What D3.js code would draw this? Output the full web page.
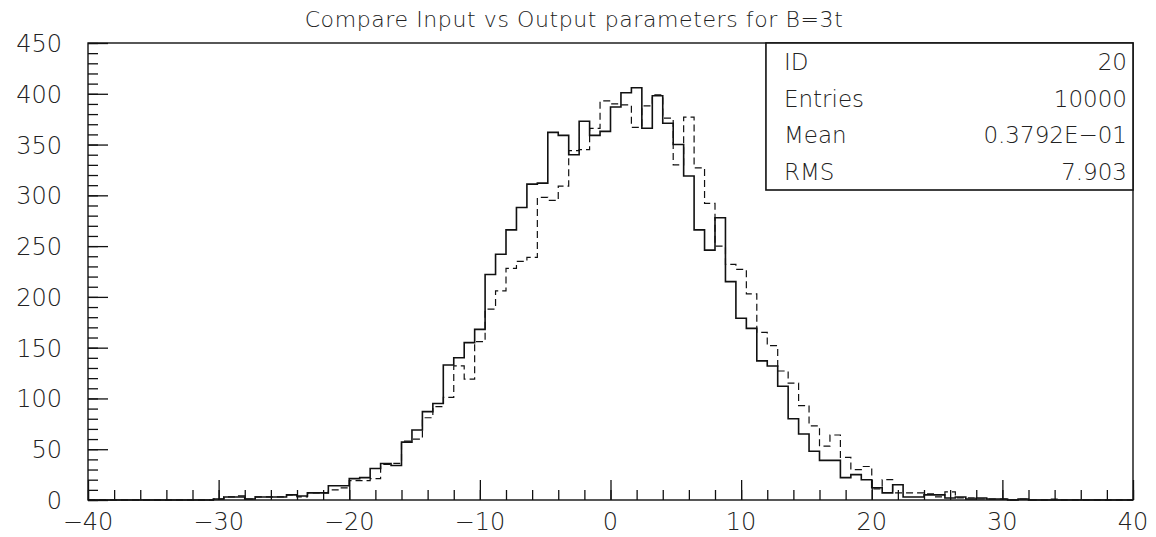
<!DOCTYPE html>
<html>
<head>
<meta charset="utf-8">
<script src="https://cdn.jsdelivr.net/npm/d3@7"></script>
<style>
  body { margin: 0; background: #fff; }
  text { font-family: "DejaVu Sans", sans-serif; font-weight: 200; fill: #222; }
</style>
</head>
<body>
<svg id="chart"></svg>
<script>
// histogram: 100 bins of width 0.8 from -40 to 40
const binStart = -40;
const binWidth = 0.8;

// solid (input) counts per bin
const solidCounts = [
  0,0,0,0,0,0,0,0,0,0, 0,0,1,3,3,1,3,3,3,5,
  4,7,7,14,14,21,22,31,36,34, 57,69,87,95,133,140,155,168,222,242,
  266,288,311,312,362,359,340,373,359,363, 387,401,406,366,398,371,350,319,266,246,
  278,215,179,169,137,132,112,80,65,48, 39,39,22,25,20,12,7,15,3,3,
  5,5,2,3,1,2,1,1,0,1, 0,0,0,0,0,0,0,0,0,0
];

// dashed (output) counts per bin
const dashedCounts = [
  0,0,0,0,0,0,0,0,0,0, 0,0,1,3,4,1,3,3,3,5,
  3,7,7,10,12,19,19,21,35,36, 58,60,81,92,101,132,119,156,188,206,
  228,235,239,298,295,309,344,345,366,393, 390,389,367,388,399,376,330,377,327,292,
  250,232,227,203,165,152,127,115,93,73, 53,64,42,30,33,11,20,7,7,7,
  6,3,8,2,2,1,1,1,0,1, 0,0,1,0,0,0,0,0,0,0
];

const xTicks = [-40, -30, -20, -10, 0, 10, 20, 30, 40];
const yTicks = [0, 50, 100, 150, 200, 250, 300, 350, 400, 450];
const statLabels = ['ID', 'Entries', 'Mean', 'RMS'];
const statValues = ['20', '10000', '0.3792E-01', '7.903'];

const W = 1156, H = 537;
const margin = {top: 43, right: 23, bottom: 37, left: 88};
const width = W - margin.left - margin.right;
const height = H - margin.top - margin.bottom;

const svg = d3.select('#chart').attr('width', W).attr('height', H);

svg.append('text')
  .attr('x', 574).attr('y', 27)
  .attr('text-anchor', 'middle')
  .attr('font-size', 22)
  .attr('letter-spacing', 0.6)
  .text('Compare Input vs Output parameters for B=3t');

const g = svg.append('g').attr('transform', `translate(${margin.left},${margin.top})`);

const x = d3.scaleLinear().domain([-40, 40]).range([0, width]);
const y = d3.scaleLinear().domain([0, 450]).range([height, 0]);

// step path for a histogram
function stepPath(counts) {
  const pts = [[x(binStart), y(0)]];
  counts.forEach((c, i) => {
    const x0 = x(binStart + i * binWidth), x1 = x(binStart + (i + 1) * binWidth);
    pts.push([x0, y(c)], [x1, y(c)]);
  });
  pts.push([x(binStart + counts.length * binWidth), y(0)]);
  return d3.line()(pts);
}

g.append('path').attr('d', stepPath(dashedCounts))
  .attr('fill', 'none').attr('stroke', '#111').attr('stroke-width', 1.2)
  .attr('stroke-dasharray', '7,4');
g.append('path').attr('d', stepPath(solidCounts))
  .attr('fill', 'none').attr('stroke', '#111').attr('stroke-width', 1.6);

// frame
g.append('rect').attr('width', width).attr('height', height)
  .attr('fill', 'none').attr('stroke', '#111').attr('stroke-width', 1.4);

// x axis: ticks pointing inward
const xAxis = g.append('g').attr('transform', `translate(0,${height})`);
xAxis.call(d3.axisTop(x).tickValues(d3.range(-40, 41, 2)).tickSize(10).tickFormat(''));
xAxis.call(a => a.select('.domain').remove());
xAxis.append('g').call(d3.axisTop(x).tickValues(xTicks).tickSize(20).tickFormat(''))
  .call(a => a.select('.domain').remove());
xAxis.selectAll('line').attr('stroke', '#111').attr('stroke-width', 1.3);
xAxis.selectAll('.xl').data(xTicks).join('text')
  .attr('x', d => x(d)).attr('y', 30)
  .attr('text-anchor', 'middle').attr('font-size', 24)
  .text(d => d < 0 ? '\u2212' + Math.abs(d) : d);

// y axis
const yAxis = g.append('g');
yAxis.call(d3.axisRight(y).tickValues(d3.range(0, 451, 10)).tickSize(10).tickFormat(''))
  .call(a => a.select('.domain').remove());
yAxis.append('g').call(d3.axisRight(y).tickValues(yTicks).tickSize(20).tickFormat(''))
  .call(a => a.select('.domain').remove());
yAxis.selectAll('line').attr('stroke', '#111').attr('stroke-width', 1.3);
yAxis.selectAll('.yl').data(yTicks).join('text')
  .attr('x', -26).attr('y', d => y(d) + 9)
  .attr('text-anchor', 'end').attr('font-size', 24)
  .text(d => d);

// stats box
const bx = x(11.9);
const box = g.append('g').attr('transform', `translate(${bx},0)`);
const bw = width - bx, bh = 147;
box.append('rect').attr('width', bw).attr('height', bh)
  .attr('fill', '#fff').attr('stroke', '#111').attr('stroke-width', 1.6);
const rowY = d3.scalePoint().domain(statLabels).range([27, 137]);
box.selectAll('.sl').data(statLabels).join('text')
  .attr('x', 18).attr('y', d => rowY(d)).attr('font-size', 23).text(d => d);
box.selectAll('.sv').data(statValues).join('text')
  .attr('x', bw - 6).attr('y', (d, i) => rowY(statLabels[i]))
  .attr('text-anchor', 'end').attr('font-size', 23)
  .text(d => d.replace(/-/g, '\u2212'));
</script>
</body>
</html>
